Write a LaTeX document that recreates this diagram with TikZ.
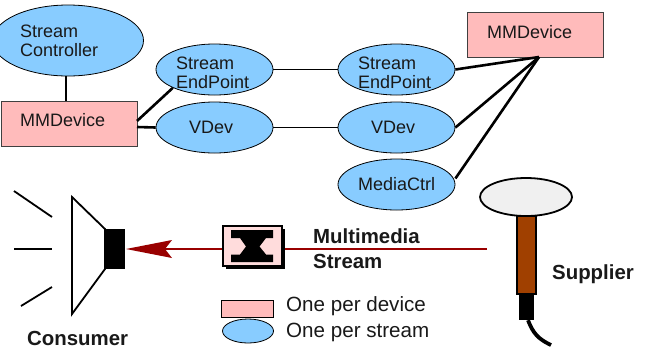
\documentclass[tikz,border=0pt]{standalone}
\usepackage{fontspec}
\setmainfont{Liberation Sans}
\usetikzlibrary{shapes.geometric}
\definecolor{skyfill}{HTML}{88CCFF}
\definecolor{pinkfill}{HTML}{FFBBBB}
\definecolor{stream}{HTML}{990000}
\definecolor{brownfill}{HTML}{A04000}
\tikzset{
  ell/.style={draw=black,line width=0.8pt,fill=skyfill,ellipse,inner sep=0pt,minimum width=117pt,minimum height=51pt},
  devbox/.style={draw=black!75,line width=0.9pt,fill=pinkfill,rectangle,inner sep=0pt,minimum width=136pt,minimum height=45pt},
  lbl/.style={inner sep=0pt,font=\fontsize{18}{19}\selectfont,align=left,anchor=west,text=black!90},
  leglbl/.style={inner sep=0pt,font=\fontsize{20.6}{24}\selectfont,align=left,anchor=west,text=black!90},
  boldlbl/.style={inner sep=0pt,font=\fontsize{20.4}{25}\selectfont\bfseries,align=left,anchor=west,text=black!90},
  thin link/.style={line width=1.2pt},
  thick link/.style={line width=2.6pt},
  ray/.style={line width=1.8pt},
}
\begin{document}
\begin{tikzpicture}[x=1pt,y=-1pt]
\useasboundingbox[clip] (0,0) rectangle (645,349);
% ellipses and boxes
\node[ell,minimum width=151pt,minimum height=71pt] (sc) at (68,40.5) {};
\node[devbox] (mml) at (69,123.5) {};
\node[devbox] (mmr) at (535.5,34.5) {};
\node[ell] (sepl) at (214.5,69.5) {};
\node[ell] (vdl) at (214.5,127.5) {};
\node[ell] (sepr) at (396.5,69.5) {};
\node[ell] (vdr) at (396.5,127.5) {};
\node[ell] (mc) at (396.5,184.5) {};
% coordinates on the right device
\coordinate (hub) at (539,57);
\coordinate (mmlr) at (137,121);
\coordinate (mmlv) at (137,127);
\coordinate (scb) at (66,76);
\coordinate (mmlt) at (66,101);
% links
\draw[thin link] (scb) -- (mmlt);
\draw[thin link] (sepl.east) -- (sepr.west);
\draw[thin link] (vdl.east) -- (vdr.west);
\draw[thick link] (mmlr) -- (sepl.south west);
\draw[thick link] (mmlv) -- (vdl.west);
\draw[thick link] (sepr.east) -- (hub);
\draw[thick link] (vdr.east) -- (hub);
\draw[thick link] (mc.east) ++(0,-6) coordinate (mcq) (mcq) -- (hub);
% labels
\node[lbl] (tsc) at (20,41) {Stream\\Controller};
\node[lbl] (tml) at (20,120.5) {MMDevice};
\node[lbl] (tmr) at (487,32) {MMDevice};
\node[lbl] (tsl) at (176,73) {Stream\\EndPoint};
\node[lbl] (tvl) at (189,127.5) {VDev};
\node[lbl] (tsr) at (358,73) {Stream\\EndPoint};
\node[lbl] (tvr) at (371,127.5) {VDev};
\node[lbl] (tmc) at (358,184.5) {MediaCtrl};
% speaker
\coordinate (c1) at (72,197);
\coordinate (c2) at (105,229);
\coordinate (c3) at (105,269);
\coordinate (c4) at (72,314);
\draw[line width=1.8pt,fill=white] (c1) -- (c2) -- (c3) -- (c4) -- cycle;
\node[fill=black,draw=none,inner sep=0pt,minimum width=21pt,minimum height=40pt] (drv) at (114.5,249) {};
\coordinate (r1a) at (14,191); \coordinate (r1b) at (52,217);
\coordinate (r2a) at (14,249); \coordinate (r2b) at (52,249);
\coordinate (r3a) at (21,306); \coordinate (r3b) at (52,287);
\draw[ray] (r1a) -- (r1b);
\draw[ray] (r2a) -- (r2b);
\draw[ray] (r3a) -- (r3b);
% stream
\coordinate (src) at (487,249);
\draw[stream,line width=2.8pt] (src) -- (165,249);
\fill[stream] (126,249) -- (172,240) -- (165,249) -- (172,258) -- cycle;
% switch box
\fill[black] (226,229) rectangle (285,269);
\node[draw=black,line width=1.4pt,fill=pink!55!white,inner sep=0pt,minimum width=59pt,minimum height=40pt] (sw) at (252.5,246) {};
\fill[black] (231,230) -- (273,230) -- (273,238) -- (266,238) -- (259.5,246.5) -- (266,254.5) -- (273,254.5) -- (273,262) -- (231,262) -- (231,254.5) -- (240,254.5) -- (246,246.5) -- (240,238) -- (231,238) -- cycle;
\node[boldlbl] (tms) at (313,248.5) {Multimedia\\Stream};
% legend
\node[draw=black,line width=0.8pt,fill=pinkfill,inner sep=0pt,minimum width=52pt,minimum height=17pt] (lr) at (247,308.5) {};
\node[ell,minimum width=51pt,minimum height=24pt] (le) at (248,331) {};
\node[leglbl] (t1) at (286,306) {One per device};
\node[leglbl] (t2) at (286,332) {One per stream};
\node[boldlbl] (tc) at (27,338) {Consumer};
\node[boldlbl] (ts) at (552,274) {Supplier};
% supplier
\node[draw=black,line width=1.8pt,fill=brownfill,inner sep=0pt,minimum width=19pt,minimum height=78pt] (st) at (526.5,255) {};
\node[fill=black,inner sep=0pt,minimum width=15pt,minimum height=26pt] (hd) at (526,307) {};
\node[ellipse,draw=black,line width=1.8pt,fill=black!6,inner sep=0pt,minimum width=92pt,minimum height=38pt] (mic) at (526,197) {};
\coordinate (cbl) at (551,345);
\draw[line width=3.8pt] (hd.south) ++(2,0) coordinate (cbs) (cbs) .. controls (533,333) and (538,339) .. (cbl);
\end{tikzpicture}
\end{document}
